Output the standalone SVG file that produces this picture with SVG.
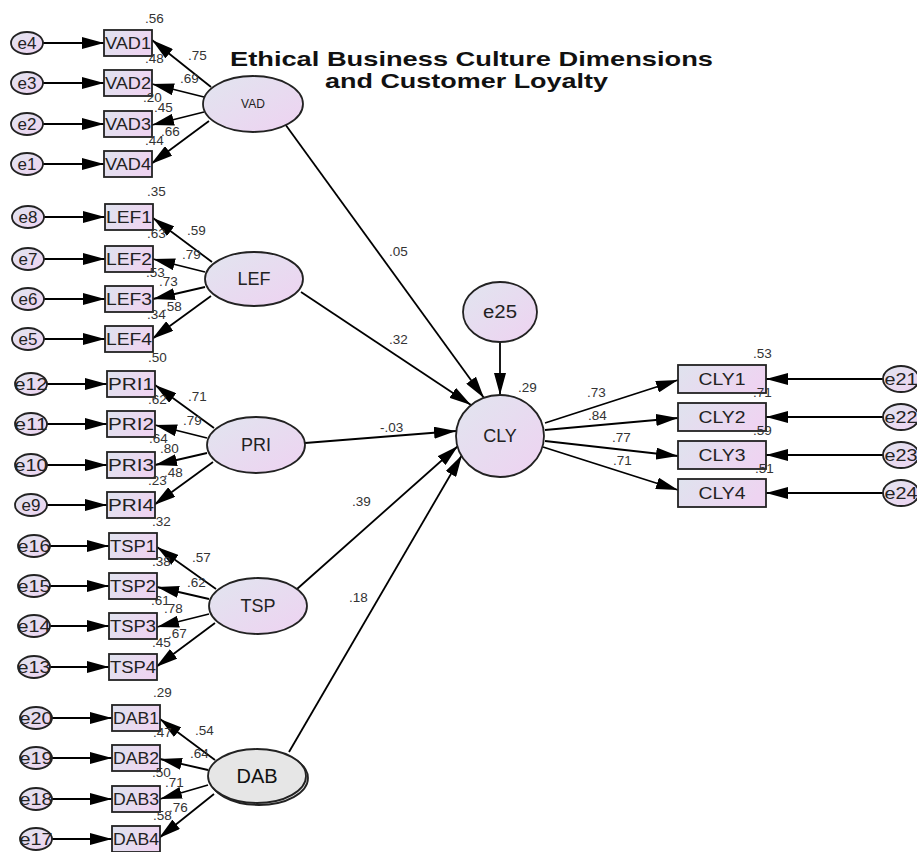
<svg xmlns="http://www.w3.org/2000/svg" width="917" height="852" viewBox="0 0 917 852">
<defs>
<linearGradient id="gBox" x1="0" y1="0" x2="1" y2="0.3"><stop offset="0" stop-color="#dfe3ee"/><stop offset="1" stop-color="#eed4f1"/></linearGradient>
<linearGradient id="gEll" x1="0" y1="0" x2="1" y2="1"><stop offset="0" stop-color="#e1e5ef"/><stop offset="1" stop-color="#eed2f1"/></linearGradient>
<marker id="ah" markerUnits="userSpaceOnUse" markerWidth="22" markerHeight="12" refX="22" refY="6" orient="auto"><path d="M0,0 L22,6 L0,12 z" fill="#000"/></marker>
<style>
.obs{fill:url(#gBox);stroke:#222;stroke-width:1.8}
.lat{fill:url(#gEll);stroke:#222;stroke-width:1.8}
.err{fill:url(#gEll);stroke:#222;stroke-width:1.8}
.ln{stroke:#000;stroke-width:1.8;fill:none;marker-end:url(#ah)}
text{font-family:"Liberation Sans",Arial,sans-serif;fill:#222}
.num{font-size:13.5px;fill:#333}
.bl{font-size:16px;text-anchor:middle}
.el{font-size:17px;text-anchor:middle}
.ll{font-size:18px;text-anchor:middle}
.title{font-size:21px;font-weight:bold;fill:#111}
</style>
</defs>
<rect width="917" height="852" fill="#fff"/>

<g id="title">
<text class="title" x="230" y="66" textLength="483" lengthAdjust="spacingAndGlyphs">Ethical Business Culture Dimensions</text>
<text class="title" x="325" y="88" textLength="283" lengthAdjust="spacingAndGlyphs">and Customer Loyalty</text>
</g>

<g id="connectors">
<path class="ln" d="M43,43 L104,43"/><path class="ln" d="M43,83 L104,83"/><path class="ln" d="M43,124 L104,124"/><path class="ln" d="M43,164 L104,164"/>
<path class="ln" d="M44,217 L105,217"/><path class="ln" d="M44,259 L105,259"/><path class="ln" d="M44,299 L105,299"/><path class="ln" d="M44,339 L105,339"/>
<path class="ln" d="M47,384 L107,384"/><path class="ln" d="M47,424 L107,424"/><path class="ln" d="M47,465 L107,465"/><path class="ln" d="M47,505 L107,505"/>
<path class="ln" d="M50,546 L109,546"/><path class="ln" d="M50,586 L109,586"/><path class="ln" d="M50,626 L109,626"/><path class="ln" d="M50,667 L109,667"/>
<path class="ln" d="M52,718 L112,718"/><path class="ln" d="M52,758 L112,758"/><path class="ln" d="M52,799 L112,799"/><path class="ln" d="M52,839 L112,839"/>
<path class="ln" d="M211,87 L152,40"/><path class="ln" d="M204,97 L152,84"/><path class="ln" d="M204,112 L152,125"/><path class="ln" d="M209,121 L151,164"/>
<path class="ln" d="M212,262 L153,218"/><path class="ln" d="M205,272 L153,259"/><path class="ln" d="M205,287 L153,299"/><path class="ln" d="M211,296 L152,339"/>
<path class="ln" d="M214,428 L155,385"/><path class="ln" d="M207,438 L155,425"/><path class="ln" d="M207,453 L155,465"/><path class="ln" d="M213,462 L154,505"/>
<path class="ln" d="M216,589 L157,547"/><path class="ln" d="M209,599 L157,587"/><path class="ln" d="M209,614 L157,627"/><path class="ln" d="M215,623 L156,667"/>
<path class="ln" d="M215,760 L160,719"/><path class="ln" d="M208,770 L160,759"/><path class="ln" d="M208,785 L160,799"/><path class="ln" d="M214,794 L159,838"/>
<path class="ln" d="M285,124 L484,398"/>
<path class="ln" d="M301,292 L471,405"/>
<path class="ln" d="M305,443 L456,431"/>
<path class="ln" d="M297,589 L458,446"/>
<path class="ln" d="M289,752 L462,455"/>
<path class="ln" d="M500,342 L500,395"/>
<path class="ln" d="M545,423 L678,380"/>
<path class="ln" d="M545,430 L678,418"/>
<path class="ln" d="M545,441 L678,456"/>
<path class="ln" d="M543,447 L678,490"/>
<path class="ln" d="M883,379 L766,379"/>
<path class="ln" d="M883,417 L766,417"/>
<path class="ln" d="M883,455 L766,455"/>
<path class="ln" d="M883,493 L766,493"/>
</g>

<g id="e4"><ellipse class="err" cx="27" cy="43" rx="16" ry="11"/><text class="el" x="27" y="49">e4</text></g>
<g id="e3"><ellipse class="err" cx="27" cy="83" rx="16" ry="11"/><text class="el" x="27" y="89">e3</text></g>
<g id="e2"><ellipse class="err" cx="27" cy="124" rx="16" ry="11"/><text class="el" x="27" y="130">e2</text></g>
<g id="e1"><ellipse class="err" cx="27" cy="164" rx="16" ry="11"/><text class="el" x="27" y="170">e1</text></g>
<g id="e8"><ellipse class="err" cx="28" cy="217" rx="16" ry="11"/><text class="el" x="28" y="223">e8</text></g>
<g id="e7"><ellipse class="err" cx="28" cy="259" rx="16" ry="11"/><text class="el" x="28" y="265">e7</text></g>
<g id="e6"><ellipse class="err" cx="28" cy="299" rx="16" ry="11"/><text class="el" x="28" y="305">e6</text></g>
<g id="e5"><ellipse class="err" cx="28" cy="339" rx="16" ry="11"/><text class="el" x="28" y="345">e5</text></g>
<g id="e12"><ellipse class="err" cx="31" cy="384" rx="16" ry="11"/><text class="el" x="31" y="390" textLength="33" lengthAdjust="spacingAndGlyphs">e12</text></g>
<g id="e11"><ellipse class="err" cx="31" cy="424" rx="16" ry="11"/><text class="el" x="31" y="430" textLength="33" lengthAdjust="spacingAndGlyphs">e11</text></g>
<g id="e10"><ellipse class="err" cx="31" cy="465" rx="16" ry="11"/><text class="el" x="31" y="471" textLength="33" lengthAdjust="spacingAndGlyphs">e10</text></g>
<g id="e9"><ellipse class="err" cx="31" cy="505" rx="16" ry="11"/><text class="el" x="31" y="511">e9</text></g>
<g id="e16"><ellipse class="err" cx="34" cy="546" rx="16" ry="11"/><text class="el" x="34" y="552" textLength="33" lengthAdjust="spacingAndGlyphs">e16</text></g>
<g id="e15"><ellipse class="err" cx="34" cy="586" rx="16" ry="11"/><text class="el" x="34" y="592" textLength="33" lengthAdjust="spacingAndGlyphs">e15</text></g>
<g id="e14"><ellipse class="err" cx="34" cy="626" rx="16" ry="11"/><text class="el" x="34" y="632" textLength="33" lengthAdjust="spacingAndGlyphs">e14</text></g>
<g id="e13"><ellipse class="err" cx="34" cy="667" rx="16" ry="11"/><text class="el" x="34" y="673" textLength="33" lengthAdjust="spacingAndGlyphs">e13</text></g>
<g id="e20"><ellipse class="err" cx="36" cy="718" rx="16" ry="11"/><text class="el" x="36" y="724" textLength="33" lengthAdjust="spacingAndGlyphs">e20</text></g>
<g id="e19"><ellipse class="err" cx="36" cy="758" rx="16" ry="11"/><text class="el" x="36" y="764" textLength="33" lengthAdjust="spacingAndGlyphs">e19</text></g>
<g id="e18"><ellipse class="err" cx="36" cy="799" rx="16" ry="11"/><text class="el" x="36" y="805" textLength="33" lengthAdjust="spacingAndGlyphs">e18</text></g>
<g id="e17"><ellipse class="err" cx="36" cy="839" rx="16" ry="11"/><text class="el" x="36" y="845" textLength="33" lengthAdjust="spacingAndGlyphs">e17</text></g>
<g id="e21"><ellipse class="err" cx="901" cy="379" rx="18" ry="13"/><text class="el" x="901" y="385" textLength="33" lengthAdjust="spacingAndGlyphs">e21</text></g>
<g id="e22"><ellipse class="err" cx="901" cy="417" rx="18" ry="13"/><text class="el" x="901" y="423" textLength="33" lengthAdjust="spacingAndGlyphs">e22</text></g>
<g id="e23"><ellipse class="err" cx="901" cy="455" rx="18" ry="13"/><text class="el" x="901" y="461" textLength="33" lengthAdjust="spacingAndGlyphs">e23</text></g>
<g id="e24"><ellipse class="err" cx="901" cy="493" rx="18" ry="13"/><text class="el" x="901" y="499" textLength="33" lengthAdjust="spacingAndGlyphs">e24</text></g>
<g id="e25"><ellipse class="err" cx="500" cy="312" rx="37" ry="30"/><text class="ll" x="500" y="318" textLength="34" lengthAdjust="spacingAndGlyphs">e25</text></g>

<g id="VAD1"><rect class="obs" x="104" y="30" width="48" height="26"/><text class="bl" x="128" y="49" textLength="46" lengthAdjust="spacingAndGlyphs">VAD1</text></g>
<g id="VAD2"><rect class="obs" x="104" y="70" width="48" height="26"/><text class="bl" x="128" y="89" textLength="46" lengthAdjust="spacingAndGlyphs">VAD2</text></g>
<g id="VAD3"><rect class="obs" x="104" y="111" width="48" height="26"/><text class="bl" x="128" y="130" textLength="46" lengthAdjust="spacingAndGlyphs">VAD3</text></g>
<g id="VAD4"><rect class="obs" x="104" y="151" width="48" height="26"/><text class="bl" x="128" y="170" textLength="46" lengthAdjust="spacingAndGlyphs">VAD4</text></g>
<g id="LEF1"><rect class="obs" x="105" y="204" width="48" height="26"/><text class="bl" x="129" y="223" textLength="46" lengthAdjust="spacingAndGlyphs">LEF1</text></g>
<g id="LEF2"><rect class="obs" x="105" y="246" width="48" height="26"/><text class="bl" x="129" y="265" textLength="46" lengthAdjust="spacingAndGlyphs">LEF2</text></g>
<g id="LEF3"><rect class="obs" x="105" y="286" width="48" height="26"/><text class="bl" x="129" y="305" textLength="46" lengthAdjust="spacingAndGlyphs">LEF3</text></g>
<g id="LEF4"><rect class="obs" x="105" y="326" width="48" height="26"/><text class="bl" x="129" y="345" textLength="46" lengthAdjust="spacingAndGlyphs">LEF4</text></g>
<g id="PRI1"><rect class="obs" x="107" y="371" width="48" height="26"/><text class="bl" x="131" y="390" textLength="46" lengthAdjust="spacingAndGlyphs">PRI1</text></g>
<g id="PRI2"><rect class="obs" x="107" y="411" width="48" height="26"/><text class="bl" x="131" y="430" textLength="46" lengthAdjust="spacingAndGlyphs">PRI2</text></g>
<g id="PRI3"><rect class="obs" x="107" y="452" width="48" height="26"/><text class="bl" x="131" y="471" textLength="46" lengthAdjust="spacingAndGlyphs">PRI3</text></g>
<g id="PRI4"><rect class="obs" x="107" y="492" width="48" height="26"/><text class="bl" x="131" y="511" textLength="46" lengthAdjust="spacingAndGlyphs">PRI4</text></g>
<g id="TSP1"><rect class="obs" x="109" y="533" width="48" height="26"/><text class="bl" x="133" y="552" textLength="46" lengthAdjust="spacingAndGlyphs">TSP1</text></g>
<g id="TSP2"><rect class="obs" x="109" y="573" width="48" height="26"/><text class="bl" x="133" y="592" textLength="46" lengthAdjust="spacingAndGlyphs">TSP2</text></g>
<g id="TSP3"><rect class="obs" x="109" y="613" width="48" height="26"/><text class="bl" x="133" y="632" textLength="46" lengthAdjust="spacingAndGlyphs">TSP3</text></g>
<g id="TSP4"><rect class="obs" x="109" y="654" width="48" height="26"/><text class="bl" x="133" y="673" textLength="46" lengthAdjust="spacingAndGlyphs">TSP4</text></g>
<g id="DAB1"><rect class="obs" x="112" y="705" width="48" height="26"/><text class="bl" x="136" y="724" textLength="46" lengthAdjust="spacingAndGlyphs">DAB1</text></g>
<g id="DAB2"><rect class="obs" x="112" y="745" width="48" height="26"/><text class="bl" x="136" y="764" textLength="46" lengthAdjust="spacingAndGlyphs">DAB2</text></g>
<g id="DAB3"><rect class="obs" x="112" y="786" width="48" height="26"/><text class="bl" x="136" y="805" textLength="46" lengthAdjust="spacingAndGlyphs">DAB3</text></g>
<g id="DAB4"><rect class="obs" x="112" y="826" width="48" height="26"/><text class="bl" x="136" y="845" textLength="46" lengthAdjust="spacingAndGlyphs">DAB4</text></g>
<g id="CLY1"><rect class="obs" x="678" y="365" width="88" height="28"/><text class="bl" x="722" y="385" textLength="47" lengthAdjust="spacingAndGlyphs">CLY1</text></g>
<g id="CLY2"><rect class="obs" x="678" y="403" width="88" height="28"/><text class="bl" x="722" y="423" textLength="47" lengthAdjust="spacingAndGlyphs">CLY2</text></g>
<g id="CLY3"><rect class="obs" x="678" y="441" width="88" height="28"/><text class="bl" x="722" y="461" textLength="47" lengthAdjust="spacingAndGlyphs">CLY3</text></g>
<g id="CLY4"><rect class="obs" x="678" y="479" width="88" height="28"/><text class="bl" x="722" y="499" textLength="47" lengthAdjust="spacingAndGlyphs">CLY4</text></g>

<g id="VAD"><ellipse class="lat" cx="253" cy="104" rx="50" ry="28"/><text x="253" y="108" style="font-size:12px;text-anchor:middle">VAD</text></g>
<g id="LEF"><ellipse class="lat" cx="254" cy="279" rx="49" ry="27"/><text class="ll" x="254" y="285">LEF</text></g>
<g id="PRI"><ellipse class="lat" cx="256" cy="445" rx="49" ry="28"/><text class="ll" x="256" y="451">PRI</text></g>
<g id="TSP"><ellipse class="lat" cx="258" cy="606" rx="49" ry="28"/><text class="ll" x="258" y="612">TSP</text></g>
<g id="DAB"><ellipse cx="259" cy="778" rx="49" ry="27" fill="#e4e4e4" stroke="#222" stroke-width="1.8"/><ellipse cx="257" cy="776" rx="49" ry="27" fill="#e6e6e6" stroke="#222" stroke-width="1.8"/><text x="257" y="783" style="font-size:20px;text-anchor:middle;fill:#111">DAB</text></g>
<g id="CLY"><ellipse class="lat" cx="500" cy="436" rx="44" ry="41"/><text class="ll" x="500" y="442">CLY</text></g>

<g id="labels">
<text class="num" x="145" y="23">.56</text><text class="num" x="145" y="63">.48</text><text class="num" x="188" y="60">.75</text><text class="num" x="180" y="83">.69</text>
<text class="num" x="143" y="102">.20</text><text class="num" x="154" y="112">.45</text><text class="num" x="161" y="136">.66</text><text class="num" x="145" y="145">.44</text>
<text class="num" x="147" y="196">.35</text><text class="num" x="187" y="235">.59</text><text class="num" x="147" y="238">.63</text><text class="num" x="182" y="259">.79</text>
<text class="num" x="146" y="277">.53</text><text class="num" x="159" y="286">.73</text><text class="num" x="163" y="311">.58</text><text class="num" x="147" y="319">.34</text>
<text class="num" x="148" y="362">.50</text><text class="num" x="188" y="401">.71</text><text class="num" x="148" y="404">.62</text><text class="num" x="183" y="425">.79</text>
<text class="num" x="149" y="443">.64</text><text class="num" x="160" y="453">.80</text><text class="num" x="164" y="477">.48</text><text class="num" x="148" y="485">.23</text>
<text class="num" x="152" y="526">.32</text><text class="num" x="192" y="562">.57</text><text class="num" x="152" y="566">.38</text><text class="num" x="187" y="587">.62</text>
<text class="num" x="151" y="605">.61</text><text class="num" x="164" y="613">.78</text><text class="num" x="168" y="638">.67</text><text class="num" x="152" y="647">.45</text>
<text class="num" x="153" y="697">.29</text><text class="num" x="195" y="735">.54</text><text class="num" x="153" y="737">.47</text><text class="num" x="190" y="758">.64</text>
<text class="num" x="152" y="777">.50</text><text class="num" x="165" y="787">.71</text><text class="num" x="169" y="812">.76</text><text class="num" x="153" y="820">.58</text>
<text class="num" x="389" y="256">.05</text><text class="num" x="389" y="344">.32</text><text class="num" x="380" y="432">-.03</text>
<text class="num" x="352" y="506">.39</text><text class="num" x="349" y="602">.18</text><text class="num" x="518" y="392">.29</text>
<text class="num" x="587" y="397">.73</text><text class="num" x="588" y="420">.84</text><text class="num" x="612" y="442">.77</text><text class="num" x="613" y="465">.71</text>
<text class="num" x="753" y="358">.53</text><text class="num" x="753" y="397">.71</text><text class="num" x="753" y="435">.59</text><text class="num" x="755" y="473">.51</text>
</g>
</svg>
